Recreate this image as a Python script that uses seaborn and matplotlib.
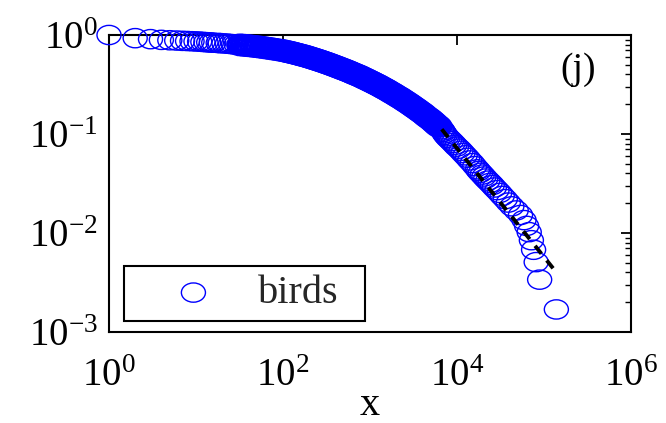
import matplotlib
matplotlib.use("Agg")
import matplotlib.pyplot as plt
from matplotlib.path import Path
from matplotlib.ticker import FixedLocator, LogLocator, LogFormatterSciNotation, NullLocator, NullFormatter
import pandas as pd
import seaborn as sns

# Complementary cumulative distribution P(X >= x) of bird species sightings
x_head = [1, 2, 3, 4, 5, 6, 7, 8, 9, 10, 11, 12, 13, 14, 15, 16, 18, 19, 21, 23,
          25, 27, 29]
p_head = [1.0, 0.929, 0.908, 0.893, 0.885, 0.879, 0.873, 0.869, 0.865, 0.861,
          0.857, 0.851, 0.847, 0.843, 0.839, 0.836, 0.830, 0.828, 0.822, 0.817,
          0.811, 0.805, 0.802]

x_body = [32, 35, 38, 41, 45, 49, 53, 58, 63, 69, 75, 82, 90, 98,
          105, 112, 118, 126, 133, 141, 150, 158, 167, 178,
          188, 199, 211, 224, 237, 251, 266, 282, 299, 317,
          336, 356, 377, 400, 424, 449, 476, 505, 535, 567,
          601, 637, 675, 716, 759, 804, 852, 903, 957, 1015,
          1075, 1140, 1208, 1280, 1357, 1438, 1524, 1616, 1713, 1815,
          1924, 2040, 2162, 2291, 2429, 2574, 2729, 2892, 3066, 3250,
          3444, 3651, 3870, 4102, 4348, 4609, 4886, 5179, 5489, 5819,
          6168]
p_body = [0.794, 0.789, 0.783, 0.778, 0.771, 0.764, 0.757, 0.750, 0.741, 0.733,
          0.724, 0.716, 0.706, 0.697,
          0.689, 0.679, 0.673, 0.664, 0.656, 0.648, 0.638, 0.631, 0.622, 0.614,
          0.605, 0.596, 0.586, 0.577, 0.568, 0.558, 0.550, 0.540, 0.530, 0.521,
          0.512, 0.502, 0.493, 0.483, 0.474, 0.465, 0.455, 0.447, 0.438, 0.429,
          0.420, 0.410, 0.402, 0.393, 0.385, 0.376, 0.366, 0.358, 0.349, 0.340,
          0.332, 0.323, 0.315, 0.307, 0.298, 0.290, 0.282, 0.274, 0.265, 0.258,
          0.250, 0.242, 0.235, 0.228, 0.220, 0.213, 0.206, 0.199, 0.192, 0.185,
          0.179, 0.172, 0.166, 0.160, 0.153, 0.147, 0.142, 0.136, 0.130, 0.124,
          0.119]

x_tail = [6679, 6840, 7000, 7160, 7330, 7590, 7850, 8220, 8610, 9020,
          9440, 9890, 10500, 11100, 11700, 12400, 13200, 14000, 15000, 16000,
          17200, 17800, 18600, 19500, 20400, 21400, 22600, 24000, 25400, 26900,
          28800, 30900, 33100, 35900, 38900, 42700, 47900, 53700, 58900, 63100,
          67600, 71600, 75900, 81300, 89100, 138705]
p_tail = [0.1117, 0.1083, 0.1049, 0.1015, 0.0981, 0.0948, 0.0914, 0.0880, 0.0846, 0.0812,
          0.0778, 0.0745, 0.0711, 0.0677, 0.0643, 0.0609, 0.0575, 0.0541, 0.0508, 0.0474,
          0.0440, 0.0423, 0.0406, 0.0389, 0.0372, 0.0355, 0.0338, 0.0321, 0.0305, 0.0288,
          0.0271, 0.0254, 0.0237, 0.0220, 0.0203, 0.0186, 0.0169, 0.0152, 0.0135, 0.0118,
          0.0102, 0.00846, 0.00677, 0.00508, 0.00338, 0.00169]

# Power-law fit above x_min
fit_x = [6679, 138705]
fit_y = [0.1117, 0.0040]

x_ticks = [1, 1e2, 1e4, 1e6]
y_ticks = [1e-3, 1e-2, 1e-1, 1]
series_label = "birds"
panel_tag = "(j)"
x_title = "x"

sns.set_theme(style="white")
plt.rcParams["font.family"] = ["Liberation Serif", "DejaVu Serif"]
plt.rcParams["mathtext.fontset"] = "custom"
plt.rcParams["mathtext.rm"] = "Liberation Serif"
plt.rcParams["mathtext.it"] = "Liberation Serif:italic"
plt.rcParams["lines.dashed_pattern"] = [2.6, 2.2]

head = pd.DataFrame({"x": x_head, "p": p_head})
body = pd.DataFrame({"x": x_body, "p": p_body})
tail = pd.DataFrame({"x": x_tail, "p": p_tail})
fit = pd.DataFrame({"x": fit_x, "p": fit_y})

fig = plt.figure(figsize=(6.66, 4.23), dpi=100)
ax = fig.add_axes([109 / 666, 91 / 423, 522 / 666, 297 / 423])

# slightly wide open ring marker
circ = Path.unit_circle()
ring = Path(circ.vertices * [1.0, 0.8], circ.codes)

ring_style = dict(marker=ring, s=300, facecolor="none", edgecolor="#0000ff",
                  clip_on=False, zorder=3, legend=False)
# small integer counts: separate rings
sns.scatterplot(data=head, x="x", y="p", ax=ax, linewidth=1.0, **ring_style)
# densely packed bulk of the distribution
sns.scatterplot(data=body, x="x", y="p", ax=ax, linewidth=2.6, **ring_style)
# sparse tail above x_min
sns.scatterplot(data=tail, x="x", y="p", ax=ax, linewidth=1.0, **ring_style)
pts = ax.collections[2]

sns.lineplot(data=fit, x="x", y="p", ax=ax, color="black", linewidth=2.8,
             linestyle="--", zorder=4, legend=False)

ax.set_xscale("log")
ax.set_yscale("log")
ax.set_xlim(1, 1e6)
ax.set_ylim(1e-3, 1)

ax.xaxis.set_major_locator(FixedLocator(x_ticks))
ax.xaxis.set_major_formatter(LogFormatterSciNotation())
ax.xaxis.set_minor_locator(NullLocator())
ax.yaxis.set_major_locator(FixedLocator(y_ticks))
ax.yaxis.set_major_formatter(LogFormatterSciNotation())
ax.yaxis.set_minor_locator(LogLocator(base=10, subs=range(2, 10)))
ax.yaxis.set_minor_formatter(NullFormatter())

ax.tick_params(which="both", direction="in", top=True, right=True,
               color="black", labelcolor="black", labelsize=28)
ax.tick_params(which="major", length=7, width=1.3)
ax.tick_params(which="minor", length=4, width=1.0)
ax.tick_params(axis="x", pad=19)
ax.tick_params(axis="y", pad=8)

for sp in ax.spines.values():
    sp.set_visible(True)
    sp.set_color("black")
    sp.set_linewidth(1.5)

ax.set_xlabel(x_title, fontsize=29, labelpad=-6, color="black")
ax.set_ylabel("")

ax.text(0.898, 0.882, panel_tag, transform=ax.transAxes, ha="center",
        va="center", fontsize=27, color="black")

leg = ax.legend(handles=[pts], labels=[series_label], loc="lower left",
                bbox_to_anchor=(0.029, 0.037, 0.462, 0.19), mode="expand",
                borderaxespad=0, frameon=True, fancybox=False,
                edgecolor="black", framealpha=1, fontsize=29,
                handlelength=3.0, handletextpad=0.1, borderpad=0.22,
                scatterpoints=1)
leg.get_frame().set_linewidth(1.5)
leg.set_zorder(5)

fig.savefig("out.png", dpi=100, facecolor="white")
